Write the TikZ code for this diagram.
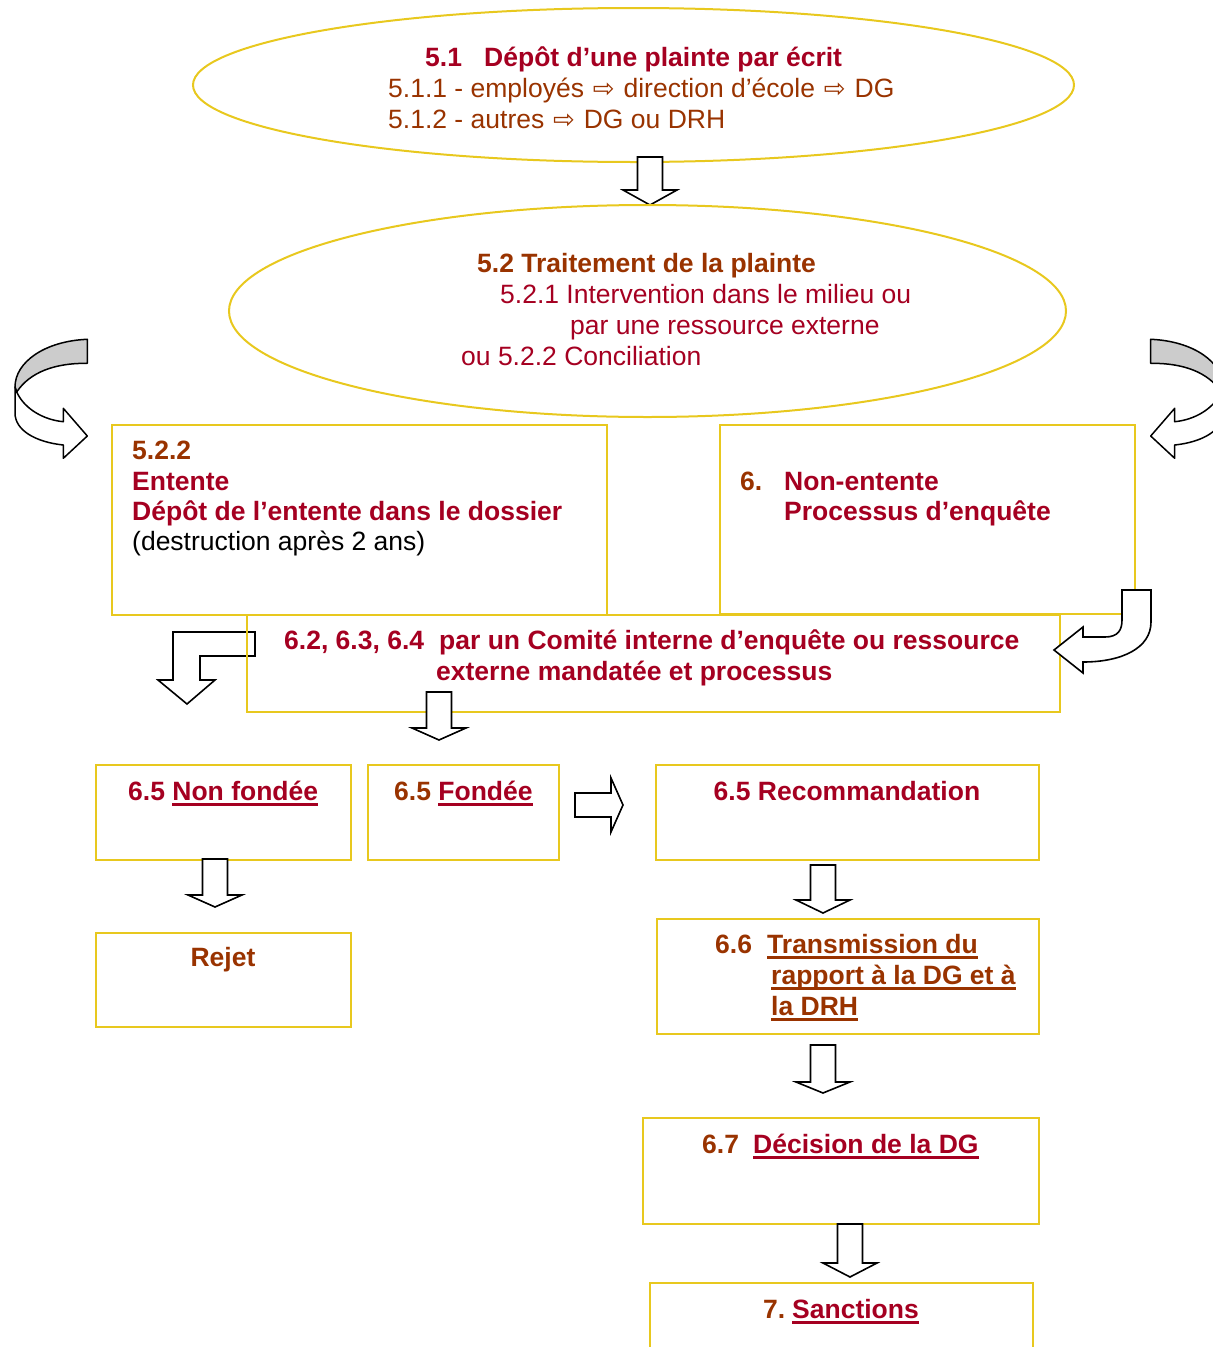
\documentclass[tikz,border=0pt]{standalone}
\usepackage{fontspec}
\setmainfont{Liberation Sans}
\newfontfamily\djv{DejaVu Sans}
\usetikzlibrary{shapes.geometric}
\definecolor{crim}{HTML}{A50021}
\definecolor{brn}{HTML}{993300}
\definecolor{gold}{HTML}{E8C81E}
\definecolor{arrgray}{HTML}{CCCCCC}
\newsavebox\ulbox
\newcommand\myul[1]{\sbox\ulbox{#1}\rlap{\rule[-5.7pt]{\wd\ulbox}{2.8pt}}\usebox\ulbox}
\newcommand\arr{\hspace{1.5pt}{\djv\fontsize{26}{26}\selectfont ⇨}\hspace{1.5pt}}
\newcommand\blockdown[3]{%
  \draw[blockarrow] (#1) ++(-12.5,0) -- ++(25,0) -- ++(0,#2) -- ++(14.5,0)
    -- ++(-27,#3-#2) -- ++(-27,-#3+#2) -- ++(14.5,0) -- cycle;}
\begin{document}
\begin{tikzpicture}[x=1pt,y=-1pt,
  box/.style={draw=gold, line width=2.2pt, rectangle, inner sep=0pt, anchor=north west},
  oval/.style={draw=gold, line width=2pt, ellipse, inner sep=0pt},
  txt/.style={inner sep=0pt, anchor=base west, font=\fontsize{26.5}{31}\selectfont},
  btxt/.style={inner sep=0pt, anchor=base west, font=\fontsize{26.5}{31}\selectfont\bfseries},
  blockarrow/.style={draw=black, line width=1.6pt, fill=white, line join=miter},
  curv/.style={draw=black, line width=1.5pt, line join=round}]
\useasboundingbox (0,0) rectangle (1213,1347);
\clip (0,0) rectangle (1213,1347);

% ellipses
\node[oval, minimum width=881pt, minimum height=154pt] (e1) at (633.5,85) {};
\coordinate (ar1) at (650,157);
\blockdown{ar1}{33}{48}
\node[oval, minimum width=837pt, minimum height=212pt] (e2) at (647.5,311) {};

% text ellipse 1
\node[btxt, text=crim] (t51n) at (425,66) {5.1};
\node[btxt, text=crim] (t51) at (484,66) {Dépôt d’une plainte par écrit};
\node[txt, text=brn] (t511) at (388,97) {5.1.1 - employés \arr\ direction d’école \arr\ DG};
\node[txt, text=brn] (t512) at (388,128) {5.1.2 - autres \arr\ DG ou DRH};

% text ellipse 2
\node[btxt, text=brn] (t52) at (477,272) {5.2 Traitement de la plainte};
\node[txt, text=crim] (t521) at (500,303) {5.2.1 Intervention dans le milieu ou};
\node[txt, text=crim] (t521b) at (570,334) {par une ressource externe};
\node[txt, text=crim] (t522c) at (461,365) {ou 5.2.2 Conciliation};

% boxes 5.2.2 and 6
\node[box, minimum width=495pt, minimum height=190pt] (b522) at (111,424) {};
\node[box, minimum width=415pt, minimum height=189pt] (b6) at (719,424) {};
\node[btxt, text=brn] (t522n) at (132,459) {5.2.2};
\node[btxt, text=crim] (t522a) at (132,490) {Entente};
\node[btxt, text=crim] (t522b) at (132,520) {Dépôt de l’entente dans le dossier};
\node[txt, text=black] (t522d) at (132,550) {(destruction après 2 ans)};
\node[btxt, text=brn] (t6n) at (740,490) {6.};
\node[btxt, text=crim] (t6a) at (784,490) {Non-entente};
\node[btxt, text=crim] (t6b) at (784,520) {Processus d’enquête};

% left bent arrow
\coordinate (lb) at (255,632);
\draw[blockarrow] (lb) -- (173,632) -- (173,680) -- (158,680) -- (187,704) -- (215,680)
  -- (200,680) -- (200,656) -- (255,656) -- cycle;

% box 6.2
\node[box, minimum width=813pt, minimum height=97pt] (b62) at (246,614) {};
\node[btxt, text=crim] (t62n) at (284,649) {6.2, 6.3, 6.4};
\node[btxt, text=crim] (t62a) at (439,649) {par un Comité interne d’enquête ou ressource};
\node[btxt, text=crim] (t62b) at (436,680) {externe mandatée et processus};

% right bent arrow
\coordinate (rb) at (1122,590);
\draw[blockarrow] (rb) -- (1151,590) -- (1151,622) .. controls (1151,648) and (1122,662) .. (1083,662)
  -- (1083,673) -- (1054,650) -- (1083,627) -- (1083,637) -- (1105,637)
  .. controls (1118,637) and (1122,630) .. (1122,620) -- cycle;

% curved arrows (left and right)
\coordinate (cl) at (87.3,339.3);
\coordinate (clw) at (16.7,392);
\draw[curv, fill=arrgray] (cl) .. controls (45,341) and (15,362) .. (15,387) -- (16.7,392)
  .. controls (30,372) and (55,363) .. (87.3,363.3) -- cycle;
\draw[curv, fill=white] (clw) .. controls (25,410) and (45,420) .. (63.3,421.7) -- (63.3,408.3)
  -- (87.3,436) -- (63.3,458.3) -- (63.3,445) .. controls (35,442) and (15,430) .. (15,413)
  -- (15,387) -- cycle;
\coordinate (cr) at (1150.7,339.3);
\coordinate (crw) at (1221.3,392);
\draw[curv, fill=arrgray] (cr) .. controls (1193,341) and (1223,362) .. (1223,387) -- (1221.3,392)
  .. controls (1208,372) and (1183,363) .. (1150.7,363.3) -- cycle;
\draw[curv, fill=white] (crw) .. controls (1213,410) and (1193,420) .. (1174.7,421.7) -- (1174.7,408.3)
  -- (1150.7,436) -- (1174.7,458.3) -- (1174.7,445) .. controls (1203,442) and (1223,430) .. (1223,413)
  -- (1223,387) -- cycle;

\coordinate (ar2) at (439,692);
\blockdown{ar2}{36}{48}

% row 6.5
\node[box, minimum width=255pt, minimum height=95pt] (bnf) at (95,764) {};
\node[box, minimum width=191pt, minimum height=95pt] (bf) at (367,764) {};
\node[box, minimum width=383pt, minimum height=95pt] (brec) at (655,764) {};
\node[btxt, text=crim] (tnf) at (128,800) {6.5 \myul{Non fondée}};
\node[btxt, text=brn] (tfn) at (394,800) {6.5 \textcolor{crim}{\myul{Fondée}}};
\node[btxt, text=crim, anchor=base] (trec) at (847,800) {6.5 Recommandation};

\coordinate (ar7) at (575,793);
\draw[blockarrow] (ar7) -- ++(36,0) -- ++(0,-15) -- ++(12,27) -- ++(-12,27) -- ++(0,-15) -- ++(-36,0) -- cycle;

\coordinate (ar3) at (215,859);
\blockdown{ar3}{36}{48}
\node[box, minimum width=255pt, minimum height=94pt] (brej) at (95,932) {};
\node[btxt, text=brn, anchor=base] (trej) at (223,966) {Rejet};

\coordinate (ar4) at (823,865);
\blockdown{ar4}{35}{48}
\node[box, minimum width=382pt, minimum height=115pt] (b66) at (656,918) {};
\node[btxt, text=brn] (t66n) at (715,953) {6.6};
\node[btxt, text=brn] (t66a) at (767,953) {\myul{Transmission du}};
\node[btxt, text=brn] (t66b) at (771,984) {\myul{rapport à la DG et à}};
\node[btxt, text=brn] (t66c) at (771,1015) {\myul{la DRH}};

\coordinate (ar5) at (823,1045);
\blockdown{ar5}{37}{48}
\node[box, minimum width=396pt, minimum height=106pt] (b67) at (642,1117) {};
\node[btxt, text=brn] (t67n) at (702,1153) {6.7};
\node[btxt, text=crim] (t67a) at (753,1153) {\myul{Décision de la DG}};

\coordinate (ar6) at (850,1224);
\blockdown{ar6}{39}{53}
\node[box, minimum width=383pt, minimum height=100pt] (b7) at (649,1282) {};
\node[btxt, text=brn] (t7n) at (763,1318) {7.};
\node[btxt, text=crim] (t7a) at (792,1318) {\myul{Sanctions}};
\end{tikzpicture}
\end{document}
